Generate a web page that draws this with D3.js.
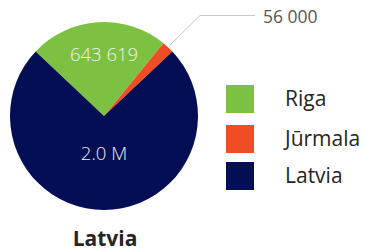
<!DOCTYPE html>
<html><head><meta charset="utf-8">
<script src="https://cdn.jsdelivr.net/npm/d3@7"></script>
<style>body{margin:0;background:#fff;}svg{display:block;font-family:"Open Sans",sans-serif;}</style>
</head><body><svg id="c" width="368" height="251"></svg>
<script>
const categories = ["Riga", "Jūrmala", "Latvia"];
const values = [643619, 56000, 2000000];
const valueLabels = ["643 619", "56 000", "2.0 M"];
const colors = ["#7CC142", "#F14D24", "#030E54"];
const title = "Latvia";

const svg = d3.select("#c");
const cx = 104, cy = 116, r = 94;
const total = d3.sum(values);
const topShare = (values[0] + values[1]) / total;
const start = -Math.PI * topShare;

const pie = d3.pie().sort(null).value(d => d)
  .startAngle(start).endAngle(start + 2 * Math.PI);
const arcs = pie(values);
const arc = d3.arc().innerRadius(0).outerRadius(r);
const g = svg.append("g").attr("transform", `translate(${cx},${cy})`);
g.selectAll("path").data(arcs).enter().append("path")
  .attr("d", arc).attr("fill", (d, i) => colors[i]);

// inside labels (stacked on the vertical axis of the pie)
const labelR = [0.66, null, 0.40];
arcs.forEach((d, i) => {
  if (labelR[i] == null) return;
  const a = (d.startAngle + d.endAngle) / 2;
  const rr = r * labelR[i];
  g.append("text")
    .attr("x", 0)
    .attr("y", -Math.sign(Math.cos(a)) * rr)
    .attr("dy", "0.36em")
    .attr("text-anchor", "middle")
    .attr("fill", "#eef0f0")
    .attr("font-size", 18.5)
    .attr("font-weight", 300)
    .text(valueLabels[i]);
});

// outside label for Jūrmala
{
  const d = arcs[1];
  const a = (d.startAngle + d.endAngle) / 2;
  const p0 = [Math.sin(a) * (r + 3), -Math.cos(a) * (r + 3)];
  const p1 = [96, -100.5];
  const p2 = [151, -100.5];
  g.append("polyline")
    .attr("points", [p0, p1, p2].map(p => p.join(",")).join(" "))
    .attr("fill", "none").attr("stroke", "#c8c8c8").attr("stroke-width", 1);
  g.append("text").attr("x", p2[0] + 8).attr("y", -99).attr("dy", "0.36em")
    .attr("fill", "#555").attr("font-size", 17.5).text(valueLabels[1]);
}

// legend
const rowY = [0, 40, 77];
const lg = svg.append("g").attr("transform", "translate(226,85)");
categories.forEach((c, i) => {
  const row = lg.append("g").attr("transform", `translate(0,${rowY[i]})`);
  row.append("rect").attr("width", 28).attr("height", 28).attr("fill", colors[i]);
  row.append("text").attr("x", 59).attr("y", 14).attr("dy", "0.35em")
    .attr("fill", "#252525").attr("font-size", 21).text(c);
});

svg.append("text").attr("x", cx + 1).attr("y", 246).attr("text-anchor", "middle")
  .attr("font-size", 21).attr("font-weight", "bold").attr("fill", "#252525").text(title);
</script></body></html>
